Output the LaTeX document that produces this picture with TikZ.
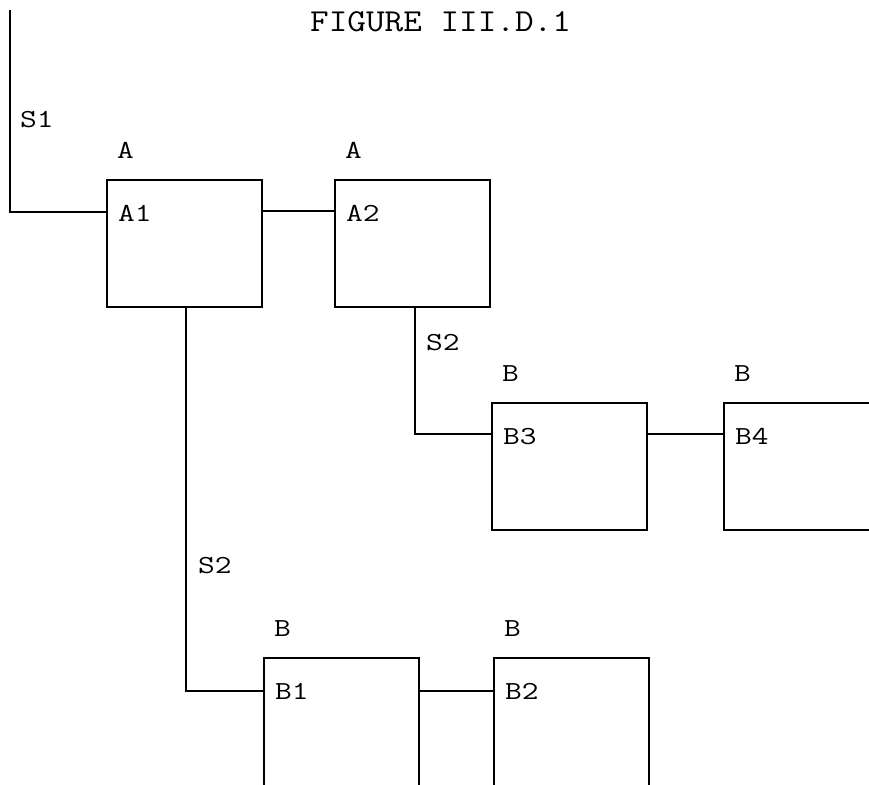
\documentclass[tikz,border=0pt]{standalone}
\usepackage{fontspec}
\newfontfamily\plotfont[FakeStretch=1.25]{Latin Modern Mono}
\newfontfamily\titlefont[FakeStretch=1.13]{Latin Modern Mono}
\begin{document}
\begin{tikzpicture}[x=1pt,y=-1pt,
  box/.style={draw, line width=1.4pt, minimum width=155pt, minimum height=127pt,
    anchor=north west, inner sep=0pt, outer sep=0pt},
  openbox/.style={box, minimum height=140pt},
  lbl/.style={anchor=base west, inner sep=0pt, font=\plotfont\fontsize{26}{26}\selectfont},
  ttl/.style={anchor=base west, inner sep=0pt, font=\titlefont\fontsize{32}{32}\selectfont},
  wire/.style={line width=1.4pt}]
\useasboundingbox (0,0) rectangle (869,784);
\clip (0,0) rectangle (869,784);

% boxes
\node[box] (A1) at (107,180) {};
\node[box] (A2) at (335,180) {};
\node[box] (B3) at (492,403) {};
\node[box] (B4) at (724,403) {};
\node[openbox] (B1) at (264,658) {};
\node[openbox] (B2) at (494,658) {};

% title
\node[ttl] (title) at (310,32) {FIGURE III.D.1};

% type labels above boxes
\foreach \b/\t in {A1/A, A2/A, B3/B, B4/B, B1/B, B2/B}
  \node[lbl] (t\b) at ([shift={(10,-22)}]\b.north west) {\t};
% inner labels
\foreach \b in {A1, A2, B3, B4, B1, B2}
  \node[lbl] (n\b) at ([shift={(11,41)}]\b.north west) {\b};

% connectors
\coordinate (s1top) at (10,10);
\draw[wire] (s1top) |- ([yshift=-32pt]A1.north west);
\draw[wire] ([yshift=-31pt]A1.north east) -- ([yshift=-31pt]A2.north west);
\draw[wire] ([xshift=80pt]A2.south west) coordinate (a2out) |- ([yshift=-31pt]B3.north west);
\draw[wire] ([yshift=-31pt]B3.north east) -- ([yshift=-31pt]B4.north west);
\draw[wire] ([xshift=79pt]A1.south west) coordinate (a1out) |- ([yshift=-33pt]B1.north west);
\draw[wire] ([yshift=-33pt]B1.north east) -- ([yshift=-33pt]B2.north west);

% signal labels
\node[lbl] (S1) at (20,127) {S1};
\node[lbl] (S2a) at ([shift={(11,43)}]a2out) {S2};
\node[lbl] (S2b) at (198,573) {S2};
\end{tikzpicture}
\end{document}
